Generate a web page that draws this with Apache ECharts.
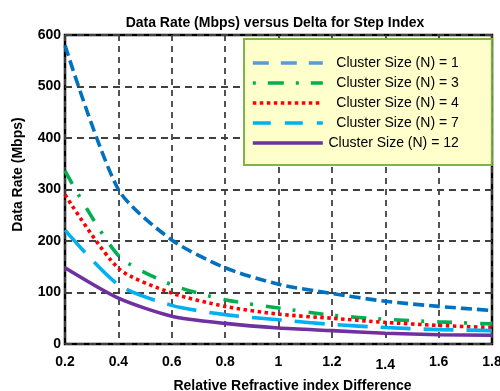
<!DOCTYPE html>
<html>
<head>
<meta charset="utf-8">
<script src="https://cdn.jsdelivr.net/npm/echarts@6/dist/echarts.min.js"></script>
<style>html,body{margin:0;padding:0;background:#fff}#c{width:500px;height:391px}</style>
</head>
<body>
<div id="c"></div>
<script>
const categories = ['0.2','0.4','0.6','0.8','1','1.2','1.4','1.6','1.8'];
const seriesNames = ['Cluster Size (N) = 1','Cluster Size (N) = 3','Cluster Size (N) = 4','Cluster Size (N) = 7','Cluster Size (N) = 12'];
const n1  = [580, 300, 202, 148, 116, 98, 83, 73, 65];
const n3  = [336, 172, 115, 86, 70, 56, 48, 43, 39];
const n4  = [290, 147, 99, 73, 58, 50, 42, 36, 32];
const n7  = [221, 115, 75, 57, 47, 38, 32, 28, 26];
const n12 = [148, 89, 54, 40, 31, 26, 21, 18, 17];
const yTicks = [0, 100, 200, 300, 400, 500, 600];

const FONT = 'Liberation Sans, Arial, sans-serif';
const colors = ['#0070C0', '#00B050', '#FF0000', '#00B0F0', '#7030A0'];
const legendColors = ['#5B9BD5', '#00B050', '#FF0000', '#00B0F0', '#7030A0'];
const dashes = [[11, 5], [15, 12, 3, 13], [3.5, 3.5], [30, 13], 'solid'];
const legendDashes = [[16, 12], [3, 12, 16, 12], [3.5, 3.5], [18, 14], 'solid'];
const allData = [n1, n3, n4, n7, n12];

const chart = echarts.init(document.getElementById('c'), null, {renderer: 'canvas'});
const option = {
  backgroundColor: '#fff',
  animation: false,
  title: {
    text: 'Data Rate (Mbps) versus Delta for Step Index',
    left: 270, top: 11, textAlign: 'center',
    textStyle: {fontFamily: FONT, fontSize: 14, fontWeight: 'bold', color: '#000'}
  },
  grid: {left: 65, right: 8, top: 35, bottom: 47, containLabel: false, outerBoundsMode: 'none',
    show: true, borderColor: '#000', borderWidth: 2.5, backgroundColor: '#fff'},
  legend: {
    orient: 'vertical', left: 244, top: 39,
    backgroundColor: '#FFFFCC', borderColor: '#7DB54A', borderWidth: 2, borderRadius: 0,
    padding: [17, 33, 15, 7],
    itemWidth: 70, itemHeight: 14, itemGap: 6,
    data: seriesNames.map((n, i) => ({name: n, itemStyle: {color: legendColors[i], opacity: 0},
      lineStyle: {color: legendColors[i], width: 3.6, type: legendDashes[i], cap: 'butt', opacity: 1}})),
    formatter: name => '{t|' + name + '}',
    textStyle: {rich: {t: {width: 131, align: 'right', fontSize: 14, fontFamily: FONT, color: '#000'}}}
  },
  xAxis: {
    type: 'category', data: categories, boundaryGap: false,
    axisLine: {show: false}, axisTick: {show: false},
    axisLabel: {
      interval: 0, margin: 11, color: '#000', fontFamily: FONT, fontSize: 14, fontWeight: 'bold',
      formatter: v => v === '1.4' ? '{low|' + v + '}' : v,
      rich: {low: {padding: [3, 0, 0, 0], color: '#000', fontFamily: FONT, fontSize: 14, fontWeight: 'bold'}}
    },
    splitLine: {show: true, interval: 0, lineStyle: {color: '#404040', width: 1.8, type: [6, 5]}},
    name: 'Relative Refractive index Difference', nameLocation: 'middle', nameGap: 35,
    nameTextStyle: {fontFamily: FONT, fontSize: 14, fontWeight: 'bold', color: '#000', padding: [0, 0, 0, 28]}
  },
  yAxis: {
    type: 'value', min: yTicks[0], max: yTicks[yTicks.length - 1], interval: 100,
    axisLine: {show: false}, axisTick: {show: false},
    axisLabel: {margin: 4, color: '#000', fontFamily: FONT, fontSize: 14, fontWeight: 'bold'},
    splitLine: {show: true, lineStyle: {color: '#404040', width: 1.8, type: [7, 5]}},
    name: 'Data Rate (Mbps)', nameLocation: 'middle', nameGap: 40,
    nameTextStyle: {fontFamily: FONT, fontSize: 14, fontWeight: 'bold', color: '#000', padding: [0, 0, 0, 30]}
  },
  series: seriesNames.map((n, i) => ({
    name: n, type: 'line', data: allData[i], symbol: 'none', smooth: 0.25,
    color: colors[i],
    lineStyle: {color: colors[i], width: 3.6, type: dashes[i], cap: 'butt'}
  }))
};
chart.setOption(option);
</script>
</body>
</html>
